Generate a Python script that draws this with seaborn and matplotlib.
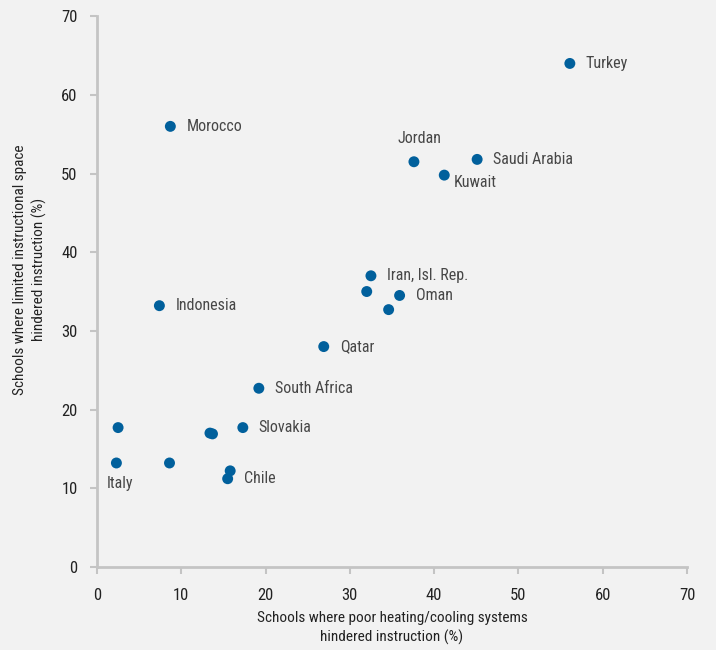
import matplotlib
matplotlib.use("Agg")
import matplotlib.pyplot as plt
import pandas as pd
import seaborn as sns

# Data
countries = [
    "Turkey", "Morocco", "Jordan", "Saudi Arabia", "Kuwait",
    "Iran, Isl. Rep.", "", "Oman", "", "Indonesia", "Qatar",
    "South Africa", "", "", "", "Slovakia", "Italy", "", "", "Chile",
]
heating = [
    56.1, 8.7, 37.6, 45.1, 41.2,
    32.5, 32.0, 35.9, 34.6, 7.4, 26.9,
    19.2, 2.5, 13.4, 13.7, 17.3, 2.3, 8.6, 15.8, 15.5,
]
space = [
    64.0, 56.0, 51.5, 51.8, 49.8,
    37.0, 35.0, 34.5, 32.7, 33.2, 28.0,
    22.7, 17.7, 17.0, 16.9, 17.7, 13.2, 13.2, 12.2, 11.2,
]
x_ticks = [0, 10, 20, 30, 40, 50, 60, 70]
y_ticks = [0, 10, 20, 30, 40, 50, 60, 70]

# label offsets in pixels (layout only)
LABEL_OFFSETS = {
    "Jordan": (-16, 23),
    "Kuwait": (9, -7),
    "Italy": (-10, -21),
}
DEFAULT_OFFSET = (16, 0)

BG = "#f2f2f2"
DOT = "#01609c"
TEXT = "#474747"
TICK_TEXT = "#222222"
SPINE = "#c4c4c4"

sns.set_theme(style="white")
plt.rcParams["font.family"] = [
    "Roboto Condensed", "Liberation Sans Narrow", "DejaVu Sans Condensed", "DejaVu Sans",
]
plt.rcParams["font.stretch"] = "condensed"

df = pd.DataFrame({"country": countries, "heating": heating, "space": space})

fig = plt.figure(figsize=(7.16, 6.5), dpi=100, facecolor=BG)
ax = fig.add_axes([0.1355, 0.128, 0.824, 0.847])
ax.set_facecolor(BG)

sns.scatterplot(
    data=df, x="heating", y="space", ax=ax,
    color=DOT, s=62, edgecolor="none", linewidth=0, zorder=3,
)

for _, row in df.iterrows():
    if not row["country"]:
        continue
    dx, dy = LABEL_OFFSETS.get(row["country"], DEFAULT_OFFSET)
    ax.annotate(
        row["country"], (row["heating"], row["space"]),
        xytext=(dx, dy), textcoords="offset pixels",
        ha="left", va="center", fontsize=11.5, color=TEXT,
    )

ax.set_xlim(0, 70)
ax.set_ylim(0, 70)
ax.set_xticks(x_ticks)
ax.set_yticks(y_ticks)
ax.tick_params(axis="both", length=5, width=1.5, color=SPINE,
               labelsize=12, labelcolor=TICK_TEXT, direction="out")
ax.tick_params(axis="x", bottom=True, pad=10)
ax.tick_params(axis="y", left=True, pad=9)

for side in ["top", "right"]:
    ax.spines[side].set_visible(False)
for side in ["left", "bottom"]:
    ax.spines[side].set_color(SPINE)
    ax.spines[side].set_linewidth(2)

ax.set_xlabel("Schools where poor heating/cooling systems\nhindered instruction (%)",
              fontsize=11, color=TICK_TEXT, linespacing=1.4)
ax.xaxis.set_label_coords(0.5, -0.081, transform=ax.transAxes)
ax.xaxis.label.set_va("top")
ax.set_ylabel("Schools where limited instructional space\nhindered instruction (%)",
              fontsize=11, color=TICK_TEXT, linespacing=1.4)
ax.yaxis.set_label_coords(-0.113, 0.54, transform=ax.transAxes)
ax.yaxis.label.set_va("center")

fig.savefig("out.png", dpi=100, facecolor=BG)
